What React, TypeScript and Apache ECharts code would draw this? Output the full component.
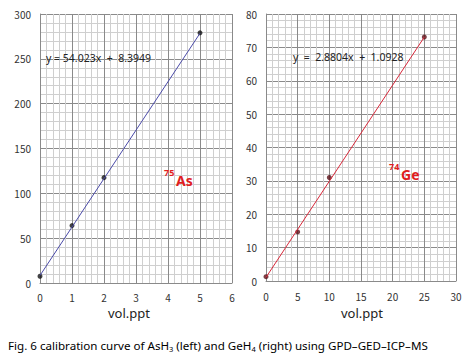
import React, { useEffect, useRef } from "react";
import * as echarts from "echarts";

// Left chart: AsH3
const asX = [0, 1, 2, 5];
const asY = [7.5, 64, 117.5, 279];
const asTrend = [
  [0, 8.39],
  [5, 278.51],
];
// Right chart: GeH4
const geX = [0, 5, 10, 25];
const geY = [1.3, 14.7, 31, 73.1];
const geTrend = [
  [0, 1.09],
  [25, 73.1],
];

const asEquation = "y = 54.023x  +  8.3949";
const geEquation = "y  =  2.8804x  +  1.0928";
const xName = "vol.ppt";

const FONT = "'Noto Sans CJK KR', 'Noto Sans', sans-serif";
const LIGHT = "'Noto Sans', 'Open Sans', sans-serif";

function axisCommon() {
  return {
    axisLine: { show: true, lineStyle: { color: "#8a8a8a", width: 1 } },
    axisTick: { show: false },
    axisLabel: { color: "#333", fontSize: 10, fontFamily: FONT },
    splitLine: { show: true, lineStyle: { color: "#8a8a8a", width: 1 } },
    minorTick: { show: false, splitNumber: 5 },
    minorSplitLine: { show: true, lineStyle: { color: "#cfcfcf", width: 1 } },
  };
}

export default function App() {
  const ref = useRef<HTMLDivElement>(null);
  useEffect(() => {
    if (!ref.current) return;
    const chart = echarts.init(ref.current, null, { renderer: "svg" });
    const ax = axisCommon();
    chart.setOption({
      animation: false,
      backgroundColor: "#fff",
      grid: [
        { left: 40, right: 236, top: 14, bottom: 77 },
        { left: 266, right: 12, top: 14, bottom: 79 },
      ],
      xAxis: [
        {
          ...ax,
          type: "value",
          gridIndex: 0,
          min: 0,
          max: 6,
          interval: 1,
          axisLabel: { ...ax.axisLabel, margin: 9 },
        },
        {
          ...ax,
          type: "value",
          gridIndex: 1,
          min: 0,
          max: 30,
          interval: 5,
          axisLabel: { ...ax.axisLabel, margin: 10 },
        },
      ],
      yAxis: [
        {
          ...ax,
          type: "value",
          gridIndex: 0,
          min: 0,
          max: 300,
          interval: 50,
          axisLabel: { ...ax.axisLabel, margin: 9 },
        },
        {
          ...ax,
          type: "value",
          gridIndex: 1,
          min: 0,
          max: 80,
          interval: 10,
          axisLabel: { ...ax.axisLabel, margin: 9 },
        },
      ],
      series: [
        {
          type: "line",
          xAxisIndex: 0,
          yAxisIndex: 0,
          data: asTrend,
          symbol: "none",
          lineStyle: { color: "#4a4aa8", width: 1 },
          silent: true,
        },
        {
          type: "scatter",
          xAxisIndex: 0,
          yAxisIndex: 0,
          data: asX.map((x, i) => [x, asY[i]]),
          symbol: "circle",
          symbolSize: 5,
          itemStyle: { color: "#111" },
        },
        {
          type: "line",
          xAxisIndex: 1,
          yAxisIndex: 1,
          data: geTrend,
          symbol: "none",
          lineStyle: { color: "#d8283a", width: 1 },
          silent: true,
        },
        {
          type: "scatter",
          xAxisIndex: 1,
          yAxisIndex: 1,
          data: geX.map((x, i) => [x, geY[i]]),
          symbol: "circle",
          symbolSize: 5,
          itemStyle: { color: "#5a1018" },
        },
      ],
      graphic: [
        {
          type: "text",
          x: 46,
          y: 58,
          z: 100,
          style: {
            text: asEquation,
            font: `10.5px ${LIGHT}`,
            fill: "#222",
            verticalAlign: "middle",
          },
        },
        {
          type: "text",
          x: 293,
          y: 57,
          z: 100,
          style: {
            text: geEquation,
            font: `10.5px ${LIGHT}`,
            fill: "#222",
            verticalAlign: "middle",
          },
        },
        {
          type: "text",
          x: 164,
          y: 168,
          z: 100,
          style: { text: "75", font: `bold 9px ${LIGHT}`, fill: "#e01e1e", verticalAlign: "top" },
        },
        {
          type: "text",
          x: 176,
          y: 173,
          z: 100,
          style: { text: "As", font: `bold 14px ${LIGHT}`, fill: "#e01e1e", verticalAlign: "top" },
        },
        {
          type: "text",
          x: 389,
          y: 162,
          z: 100,
          style: { text: "74", font: `bold 9px ${LIGHT}`, fill: "#e01e1e", verticalAlign: "top" },
        },
        {
          type: "text",
          x: 401,
          y: 167,
          z: 100,
          style: { text: "Ge", font: `bold 14px ${LIGHT}`, fill: "#e01e1e", verticalAlign: "top" },
        },
        {
          type: "text",
          x: 129,
          y: 313,
          style: { text: xName, font: `13px ${LIGHT}`, fill: "#222", align: "center", verticalAlign: "middle" },
        },
        {
          type: "text",
          x: 362,
          y: 313,
          style: { text: xName, font: `13px ${LIGHT}`, fill: "#222", align: "center", verticalAlign: "middle" },
        },
        {
          type: "text",
          x: 8,
          y: 345,
          style: {
            text:
              "{n|Fig. 6 calibration curve of AsH}{s|3}{n| (left) and GeH}{s|4}{n| (right) using GPD–GED–ICP–MS}",
            verticalAlign: "middle",
            rich: {
              n: { fontSize: 11.6, fontFamily: LIGHT, color: "#444" },
              s: { fontSize: 7.5, fontFamily: LIGHT, color: "#444", padding: [7, 0, 0, 0] },
            },
          },
        },
      ],
    });
    return () => chart.dispose();
  }, []);
  return (
    <div
      ref={ref}
      style={{ position: "fixed", left: 0, top: 0, width: 468, height: 360 }}
    />
  );
}
